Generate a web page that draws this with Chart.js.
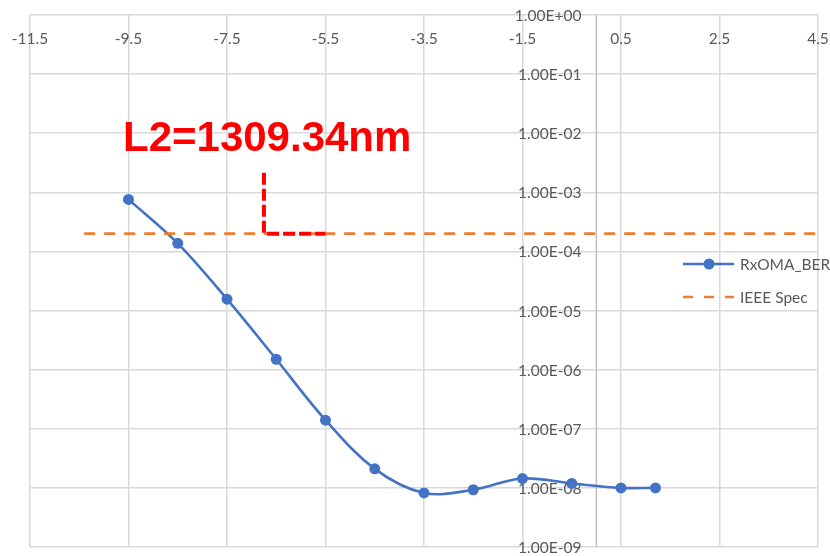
<!DOCTYPE html>
<html>
<head>
<meta charset="utf-8">
<script src="https://cdn.jsdelivr.net/npm/chart.js@4/dist/chart.umd.min.js"></script>
<style>
  html, body { margin: 0; padding: 0; background: #fff; }
  #wrap { width: 830px; height: 556px; position: relative; }
</style>
</head>
<body>
<div id="wrap"><canvas id="berChart"></canvas></div>
<script>
// data
const oma = [-9.5, -8.5, -7.5, -6.5, -5.5, -4.5, -3.5, -2.5, -1.5, -0.5, 0.5, 1.2];
const ber = [7.6e-4, 1.37e-4, 1.56e-5, 1.5e-6, 1.4e-7, 2.1e-8, 8.2e-9, 9.3e-9, 1.44e-8, 1.19e-8, 1.0e-8, 1.0e-8];
const specX = [-10.4, 4.5];
const specBer = [2.0e-4, 2.0e-4];
const markX = [-6.75, -6.75, -5.5];
const markY = [2.14e-3, 2.0e-4, 2.0e-4];
const xTicks = [-11.5, -9.5, -7.5, -5.5, -3.5, -1.5, 0.5, 2.5, 4.5];
const yTicks = [1, 1e-1, 1e-2, 1e-3, 1e-4, 1e-5, 1e-6, 1e-7, 1e-8, 1e-9];
const yTickLabels = ['1.00E+00', '1.00E-01', '1.00E-02', '1.00E-03', '1.00E-04', '1.00E-05', '1.00E-06', '1.00E-07', '1.00E-08', '1.00E-09'];
const seriesNames = ['RxOMA_BER', 'IEEE Spec'];
const note = 'L2=1309.34nm';

const BLUE = '#4472C4', ORANGE = '#ED7D31', RED = '#FF0000';
const TXT = '#595959', FONT = '15.5px Lato';

const toPts = (xs, ys) => xs.map((x, i) => ({ x: x, y: ys[i] }));

// tick labels, zero axis, legend and note drawn over the chart area
const extras = {
  id: 'extras',
  beforeDatasetsDraw(chart) {
    const { ctx, chartArea: a, scales: { x, y } } = chart;
    ctx.save();
    // vertical axis at x = 0
    const x0 = x.getPixelForValue(0);
    ctx.strokeStyle = '#bfbfbf';
    ctx.lineWidth = 1.5;
    ctx.beginPath();
    ctx.moveTo(x0, a.top);
    ctx.lineTo(x0, a.bottom);
    ctx.stroke();

    ctx.fillStyle = TXT;
    ctx.font = FONT;
    ctx.textBaseline = 'middle';
    ctx.textAlign = 'center';
    xTicks.forEach(v => ctx.fillText(String(v), x.getPixelForValue(v), a.top + 24));
    ctx.textAlign = 'right';
    yTicks.forEach((v, i) => ctx.fillText(yTickLabels[i], x0 - 15, y.getPixelForValue(v) + 1));
    ctx.restore();
  },
  afterDraw(chart) {
    const { ctx } = chart;
    ctx.save();
    // legend
    const lx = 683, ly = [264, 297];
    ctx.lineWidth = 2.6;
    ctx.strokeStyle = BLUE;
    ctx.beginPath(); ctx.moveTo(lx, ly[0]); ctx.lineTo(lx + 51, ly[0]); ctx.stroke();
    ctx.fillStyle = BLUE;
    ctx.beginPath(); ctx.arc(lx + 26, ly[0], 5.5, 0, Math.PI * 2); ctx.fill();
    ctx.strokeStyle = ORANGE;
    ctx.setLineDash([10, 11]);
    ctx.beginPath(); ctx.moveTo(lx, ly[1]); ctx.lineTo(lx + 51, ly[1]); ctx.stroke();
    ctx.setLineDash([]);
    ctx.fillStyle = TXT;
    ctx.font = FONT;
    ctx.textAlign = 'left';
    ctx.textBaseline = 'middle';
    ctx.fillText(seriesNames[0], lx + 57, ly[0] + 1);
    ctx.fillText(seriesNames[1], lx + 57, ly[1] + 1);

    // red wavelength note
    ctx.fillStyle = RED;
    ctx.font = 'bold 42px "Liberation Sans"';
    ctx.textBaseline = 'alphabetic';
    ctx.fillText(note, 123, 151);
    ctx.restore();
  }
};

new Chart(document.getElementById('berChart'), {
  type: 'line',
  data: {
    datasets: [{
      label: seriesNames[0],
      data: toPts(oma, ber),
      borderColor: BLUE,
      backgroundColor: BLUE,
      borderWidth: 2.6,
      pointRadius: 5.5,
      pointBorderWidth: 0,
      tension: 0.35,
      order: 3
    }, {
      label: seriesNames[1],
      data: toPts(specX, specBer),
      borderColor: ORANGE,
      borderWidth: 2.6,
      borderDash: [11, 9],
      pointRadius: 0,
      tension: 0,
      order: 2
    }, {
      label: 'mark',
      data: toPts(markX, markY),
      borderColor: RED,
      borderWidth: 4,
      borderDash: [12, 4],
      borderCapStyle: 'butt',
      borderJoinStyle: 'miter',
      pointRadius: 0,
      tension: 0,
      order: 1
    }]
  },
  options: {
    responsive: true,
    maintainAspectRatio: false,
    animation: false,
    layout: { padding: { left: 30, top: 15, right: 12, bottom: 9 } },
    plugins: { legend: { display: false }, tooltip: { enabled: false } },
    scales: {
      x: {
        type: 'linear',
        position: 'top',
        min: -11.5,
        max: 4.5,
        afterBuildTicks: s => { s.ticks = xTicks.map(v => ({ value: v })); },
        ticks: { display: false },
        grid: { color: '#d9d9d9', lineWidth: 1.5, drawTicks: false },
        border: { display: false }
      },
      y: {
        type: 'logarithmic',
        min: 1e-9,
        max: 1,
        afterBuildTicks: s => { s.ticks = yTicks.map(v => ({ value: v })); },
        ticks: { display: false },
        grid: { color: '#d9d9d9', lineWidth: 1.5, drawTicks: false },
        border: { display: false }
      }
    }
  },
  plugins: [extras]
});
</script>
</body>
</html>
